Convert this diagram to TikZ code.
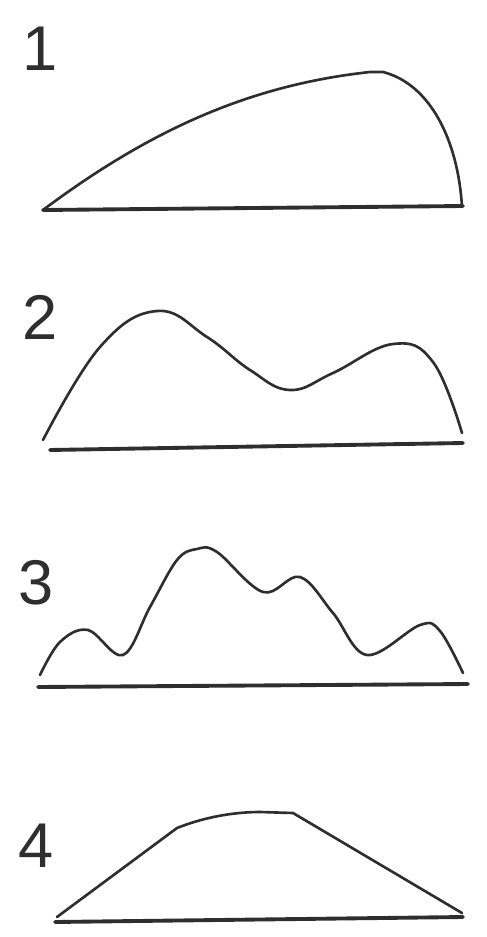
\documentclass[tikz,border=0pt]{standalone}
\usepackage{fontspec}
\setmainfont{Liberation Sans}
\definecolor{ink}{HTML}{2E2E2E}
\begin{document}
\begin{tikzpicture}[x=0.02cm,y=-0.02cm,line join=round,line cap=round]
\useasboundingbox (0,0) rectangle (487,937);
\tikzset{outline/.style={draw=ink,line width=1.5pt},
         floor/.style={draw=ink,line width=2.2pt},
         numlabel/.style={text=ink,font=\fontsize{36}{38}\selectfont,inner sep=0pt}}

% profile 1
\node[numlabel] (n1) at (40,49) {1};
\draw[outline] (43,210) .. controls (150,130) and (250,85) .. (370,72)
  -- (383,72) .. controls (430,84) and (458,140) .. (462,207);
\draw[floor] (43,210) -- (463,206);

% profile 2
\node[numlabel] (n2) at (40,317) {2};
\draw[outline] plot[smooth,tension=0.7] coordinates {(43,440) (100,347) (157,311) (207,337) (250,370) (290,390) (333,373) (393,344) (433,362) (462,433)};
\draw[floor] (50,450) -- (463,443);

% profile 3
\node[numlabel] (n3) at (36,583) {3};
\draw[outline] plot[smooth,tension=0.6] coordinates {(40,675) (60,642) (88,630) (123,655) (150,607) (177,560) (197,549) (217,552) (263,592) (300,577) (333,613) (367,655) (420,625) (440,631) (463,673)};
\draw[floor] (38,687) -- (468,684);

% profile 4
\node[numlabel] (n4) at (36,846) {4};
\draw[outline] (57,917) -- (177,828) .. controls (210,815) and (240,812) .. (260,812)
  -- (293,813) -- (462,913);
\draw[floor] (55,922) -- (463,917);
\end{tikzpicture}
\end{document}
